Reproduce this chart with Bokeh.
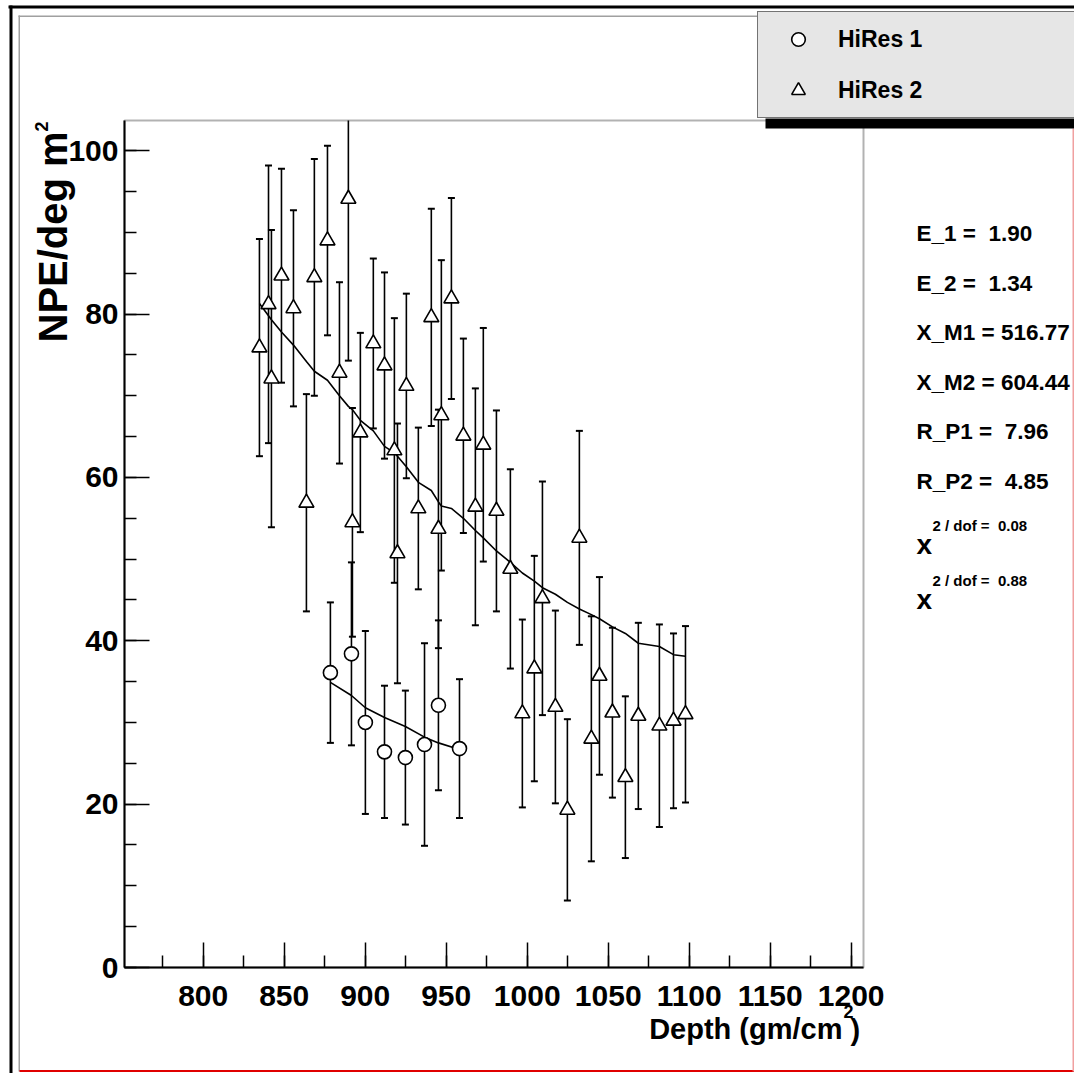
import numpy as np
from bokeh.plotting import figure
from bokeh.models import (Range1d, SingleIntervalTicker, Label, BoxAnnotation,
                          Legend, LegendItem)
from bokeh.embed import file_html
from bokeh.resources import INLINE

# ---- HiRes 1 profile: depth (g/cm^2), NPE/deg m^2, error, fitted curve ----
depth_h1 = [878.5, 891.5, 900.1, 911.9, 924.8, 936.6, 945.2, 958.2]
npe_h1 = [36.1, 38.4, 30.0, 26.4, 25.7, 27.3, 32.1, 26.8]
err_h1 = [8.6, 11.2, 11.2, 8.1, 8.2, 12.4, 10.4, 8.5]
fit_h1 = [34.9, 33.3, 31.8, 30.6, 29.5, 28.2, 27.5, 26.7]

# ---- HiRes 2 profile ----
depth_h2 = [834.7, 840.3, 842.1, 848.3, 855.7, 863.7, 868.6, 876.7, 884.1, 889.6,
            892.1, 897.0, 905.0, 911.9, 918.0, 919.9, 925.4, 932.8, 940.8, 945.2,
            947.0, 953.2, 960.6, 968.0, 972.9, 981.0, 989.6, 997.0, 1004.4, 1009.4,
            1017.4, 1024.8, 1032.2, 1039.6, 1044.6, 1052.6, 1060.6, 1068.6, 1081.6,
            1090.3, 1097.7]
npe_h2 = [75.9, 81.2, 72.1, 84.7, 80.7, 56.9, 84.5, 89.0, 72.8, 94.1,
          54.5, 65.5, 76.4, 73.7, 63.3, 50.7, 71.2, 56.2, 79.6, 53.7,
          67.6, 81.9, 65.1, 56.4, 64.0, 55.9, 48.8, 31.1, 36.6, 45.2,
          31.9, 19.3, 52.6, 28.0, 35.7, 31.2, 23.3, 30.8, 29.6, 30.2, 31.0]
err_h2 = [13.3, 17.0, 18.2, 13.1, 12.0, 13.3, 14.5, 11.6, 11.1, 19.8,
          14.0, 12.2, 10.4, 11.4, 16.2, 15.9, 11.3, 9.9, 13.3, 14.6,
          19.0, 12.3, 11.9, 14.5, 14.3, 12.3, 12.2, 11.5, 13.8, 14.3,
          11.8, 11.1, 13.1, 15.0, 12.1, 10.4, 9.9, 11.4, 12.4, 10.7, 10.8]
fit_h2 = [81.3, 79.8, 79.3, 77.8, 76.2, 74.2, 73.0, 71.9, 70.0, 68.7,
          68.3, 67.0, 65.7, 63.8, 63.0, 62.6, 61.3, 59.4, 58.4, 57.0,
          56.5, 56.2, 55.0, 53.5, 52.6, 51.0, 49.6, 48.3, 47.3, 46.5,
          45.7, 44.7, 43.9, 43.2, 42.7, 41.7, 40.9, 39.7, 39.3, 38.3, 38.1]

series_names = ["HiRes 1", "HiRes 2"]
fit_params = ["E_1 =\u00a0 1.90", "E_2 =\u00a0 1.34", "X_M1 = 516.77",
              "X_M2 = 604.44", "R_P1 =\u00a0 7.96", "R_P2 =\u00a0 4.85"]
chi2_values = ["0.08", "0.88"]

# ---- axis box (data) and its place on the canvas (pixels) ----
XMIN, XMAX = 751.4, 1207.6
YMIN, YMAX = 0.0, 103.7
W, H = 1074, 1073
BL, BR, BT, BB = 124, 863, 120, 967
KX = (BR - BL) / (XMAX - XMIN)
KY = (BB - BT) / (YMAX - YMIN)

def sx(px):
    return XMIN + (px - BL) / KX

def sy(py):
    return YMIN + (BB - py) / KY

FONT = "Liberation Sans"

# the frame spans the whole canvas; the axes sit at fixed data positions
p = figure(width=W, height=H, title=None,
           x_range=Range1d(sx(0), sx(W)), y_range=Range1d(sy(H), sy(0)),
           output_backend="svg", toolbar_location=None, min_border=0)
p.background_fill_color = "white"
p.border_fill_color = "white"
p.grid.visible = False
p.outline_line_color = None

xax, yax = p.xaxis[0], p.yaxis[0]
xax.fixed_location = YMIN
yax.fixed_location = XMIN
xax.bounds = (XMIN, XMAX)
yax.bounds = (YMIN, YMAX)
xax.ticker = SingleIntervalTicker(interval=50, num_minor_ticks=2)
yax.ticker = SingleIntervalTicker(interval=20, num_minor_ticks=4)
for ax in (xax, yax):
    ax.major_tick_in = 25
    ax.major_tick_out = 0
    ax.minor_tick_in = 12
    ax.minor_tick_out = 0
    ax.axis_line_width = 2
    ax.axis_line_color = "black"
    ax.major_tick_line_width = 1.5
    ax.minor_tick_line_width = 1.5
    ax.major_tick_line_color = "black"
    ax.minor_tick_line_color = "black"
    ax.major_label_text_font = FONT
    ax.major_label_text_font_style = "bold"
    ax.major_label_text_font_size = "30px"
    ax.major_label_text_color = "black"
xax.major_label_standoff = 18
yax.major_label_standoff = 6

# axis box outline
p.add_layout(BoxAnnotation(left=XMIN, right=XMAX, bottom=YMIN, top=YMAX,
                           fill_alpha=0, line_color="black", line_width=2))

# ---- error bars, cut at the top of the axis box ----
def error_bars(depth, vals, errs):
    lo = [max(v - e, YMIN) for v, e in zip(vals, errs)]
    hi = [min(v + e, YMAX) for v, e in zip(vals, errs)]
    p.segment(x0=depth, y0=lo, x1=depth, y1=hi,
              line_color="black", line_width=1.6)
    cap_x = [d for d, v, e in zip(depth, vals, errs) if v + e <= YMAX] + \
            [d for d, v, e in zip(depth, vals, errs) if v - e >= YMIN]
    cap_y = [v + e for v, e in zip(vals, errs) if v + e <= YMAX] + \
            [v - e for v, e in zip(vals, errs) if v - e >= YMIN]
    p.scatter(cap_x, cap_y, marker="dash", size=7,
              line_color="black", line_width=2)

error_bars(depth_h1, npe_h1, err_h1)
error_bars(depth_h2, npe_h2, err_h2)

# ---- fitted profiles ----
p.line(depth_h2, fit_h2, line_color="black", line_width=1.6)
p.line(depth_h1, fit_h1, line_color="black", line_width=1.6)

# ---- markers ----
r1 = p.scatter(depth_h1, npe_h1, marker="circle", size=14,
               fill_color="white", line_color="black", line_width=1.6)
r2 = p.scatter(depth_h2, npe_h2, marker="triangle", size=15,
               fill_color="white", line_color="black", line_width=1.6)

# ---- canvas frame lines ----
def band(x0, x1, y0, y1, color):
    p.add_layout(BoxAnnotation(left=sx(x0), right=sx(x1), top=sy(y0), bottom=sy(y1),
                               fill_color=color, fill_alpha=1.0, line_alpha=0))

band(8, 1080, 5, 8, "black")
band(9, 12, 5, 1080, "black")
band(18, 19.5, 15, 1071, "#a0a0a0")
band(18, 757, 15, 16.5, "#a0a0a0")
band(19, 1080, 1069.5, 1071.5, "#e00000")
band(1072, 1080, 128, 1071, "#f0a0a0")

# ---- legend box with drop shadow ----
band(765, 1090, 118, 128, "black")
legend = Legend(items=[LegendItem(label=series_names[0], renderers=[r1]),
                       LegendItem(label=series_names[1], renderers=[r2])],
                location=(757, H - 118), orientation="vertical")
legend.padding = 10
legend.spacing = 17
legend.margin = 0
legend.glyph_width = 60
legend.glyph_height = 34
legend.label_height = 34
legend.label_width = 240
legend.label_standoff = 10
legend.background_fill_color = "#e6e6e6"
legend.background_fill_alpha = 1.0
legend.border_line_color = "black"
legend.border_line_width = 1
legend.label_text_font = FONT
legend.label_text_font_style = "bold"
legend.label_text_font_size = "23px"
legend.label_text_color = "black"
p.add_layout(legend)

# ---- text helper: (px, py) is the left (or right) end at mid-height ----
def label(px, py, text, size, align="left", angle=0, style="bold"):
    p.add_layout(Label(x=sx(px), y=sy(py), text=text, text_font=FONT,
                       text_font_style=style, text_font_size=f"{size}px",
                       text_color="black", text_align=align,
                       text_baseline="middle", angle=angle,
                       angle_units="deg"))

# axis titles
label(842, 1028, "Depth (gm/cm", 29, align="right")
label(843, 1011, "2", 18)
label(850, 1029, ")", 29)
label(52, 342, "NPE/deg m", 40, angle=90)
label(41, 131, "2", 18, angle=90)

# ---- fit parameter block ----
for i, txt in enumerate(fit_params):
    label(916, 233 + i * 49.5, txt, 22.5)
for i, val in enumerate(chi2_values):
    label(916, 544 + i * 55, "x", 28)
    label(932, 525 + i * 55, "2 / dof =\u00a0 " + val, 15)

open("out.html", "w").write(file_html(p, INLINE))
